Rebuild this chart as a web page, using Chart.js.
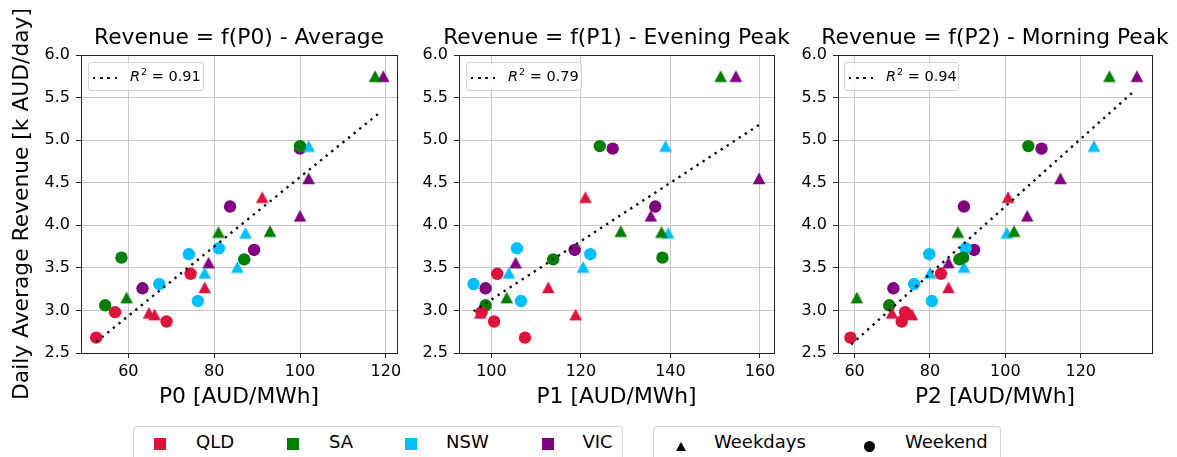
<!DOCTYPE html>
<html><head><meta charset="utf-8">
<script src="https://cdn.jsdelivr.net/npm/chart.js@4.4.1/dist/chart.umd.min.js"></script>
<style>
body{margin:0;background:#fff;}
#wrap{position:relative;width:1177px;height:457px;overflow:hidden;background:#fff;font-family:"DejaVu Sans",sans-serif;color:#000;}
#wrap canvas{position:absolute;top:0;}
.r2{position:absolute;top:62px;height:29px;background:rgba(255,255,255,0.8);border:1px solid #d4d4d4;border-radius:3px;box-sizing:border-box;}
.r2 .dots{position:absolute;left:4px;top:14px;width:25px;height:2.4px;background:repeating-linear-gradient(90deg,#1a1a1a 0,#1a1a1a 2.4px,transparent 2.4px,transparent 7.2px);}
.r2 .txt{position:absolute;left:41px;top:5px;font-size:14.5px;line-height:16px;white-space:nowrap;}
.r2 sup{font-size:9.5px;vertical-align:0;position:relative;top:-6px;margin-left:1px;}
.lg{position:absolute;top:426px;height:45px;border:1px solid #d4d4d4;border-radius:4px;box-sizing:border-box;background:#fff;}
.sq{position:absolute;width:12px;height:12px;top:437.5px;}
.lt{position:absolute;top:433px;font-size:18px;line-height:18px;white-space:nowrap;}
.mk{position:absolute;}
</style>
</head><body>
<div id="wrap">
  <div class="r2" style="left:88px;width:116px"><div class="dots"></div><div class="txt"><i>R</i><sup>2</sup> = 0.91</div></div>
  <div class="r2" style="left:466px;width:116px"><div class="dots"></div><div class="txt"><i>R</i><sup>2</sup> = 0.79</div></div>
  <div class="r2" style="left:844px;width:115px"><div class="dots"></div><div class="txt"><i>R</i><sup>2</sup> = 0.94</div></div>
  <div class="lg" style="left:133px;width:490px"></div>
  <div class="lg" style="left:653px;width:348px"></div>
  <div id="legendItems"></div>
</div>
<script>
// ---- categories & styling keys ----
const regions = ['QLD', 'SA', 'NSW', 'VIC'];
const regionColors = ['#DC143C', '#008000', '#00BFFF', '#800080'];
const dayTypes = ['Weekdays', 'Weekend'];

// ---- axis tick labels ----
const yTicks = [2.5, 3.0, 3.5, 4.0, 4.5, 5.0, 5.5, 6.0];
const p0Ticks = [60, 80, 100, 120];
const p1Ticks = [100, 120, 140, 160];
const p2Ticks = [60, 80, 100, 120];

// ---- daily average revenue [k AUD/day] ----
const revQLDwd = [2.97, 2.95, 3.27, 4.33];
const revQLDwe = [2.68, 2.98, 2.87, 3.43];
const revSAwd  = [3.15, 3.92, 3.93, 5.75];
const revSAwe  = [3.06, 3.62, 3.60, 4.93];
const revNSWwd = [3.44, 3.51, 3.91, 4.93];
const revNSWwe = [3.31, 3.66, 3.11, 3.73];
const revVICwd = [3.56, 4.11, 4.55, 5.75];
const revVICwe = [3.26, 4.22, 3.71, 4.90];

// ---- P0 average price [AUD/MWh] ----
const p0QLDwd = [64.8, 66.1, 77.8, 91.2];
const p0QLDwe = [52.5, 56.9, 68.9, 74.5];
const p0SAwd  = [59.6, 81.0, 93.0, 117.5];
const p0SAwe  = [54.6, 58.4, 87.0, 100.0];
const p0NSWwd = [77.8, 85.4, 87.3, 102.0];
const p0NSWwe = [67.2, 74.1, 76.2, 81.1];
const p0VICwd = [78.7, 100.0, 102.0, 119.4];
const p0VICwe = [63.3, 83.7, 89.3, 100.0];

// ---- P1 evening peak price [AUD/MWh] ----
const p1QLDwd = [97.5, 118.8, 112.7, 121.0];
const p1QLDwe = [107.5, 97.8, 100.6, 101.3];
const p1SAwd  = [103.4, 138.0, 128.9, 151.2];
const p1SAwe  = [98.7, 138.2, 113.8, 124.2];
const p1NSWwd = [103.9, 120.5, 139.5, 138.9];
const p1NSWwe = [96.0, 122.1, 106.6, 105.7];
const p1VICwd = [105.4, 135.6, 159.8, 154.6];
const p1VICwe = [98.7, 136.6, 118.6, 127.1];

// ---- P2 morning peak price [AUD/MWh] ----
const p2QLDwd = [69.9, 75.2, 84.9, 100.7];
const p2QLDwe = [58.9, 73.4, 72.5, 82.9];
const p2SAwd  = [60.6, 87.4, 102.3, 127.6];
const p2SAwe  = [69.2, 88.8, 87.8, 106.1];
const p2NSWwd = [80.0, 89.0, 100.4, 123.5];
const p2NSWwe = [75.8, 79.8, 80.5, 89.5];
const p2VICwd = [84.9, 105.8, 114.6, 134.9];
const p2VICwe = [70.3, 89.0, 91.7, 109.6];

// ---- fitted trend line end points ----
const fit0X = [52.5, 119.0], fit0Y = [2.63, 5.34];
const fit1X = [96.0, 159.8], fit1Y = [2.99, 5.18];
const fit2X = [59.1, 134.0], fit2Y = [2.60, 5.57];

const revWd = [revQLDwd, revSAwd, revNSWwd, revVICwd];
const revWe = [revQLDwe, revSAwe, revNSWwe, revVICwe];

const FONT = 'DejaVu Sans';
const TSIZE = 21.8;

function triImg(color) {
  const c = document.createElement('canvas');
  c.width = 14; c.height = 13;
  const g = c.getContext('2d');
  g.fillStyle = color;
  g.beginPath(); g.moveTo(7, 0.5); g.lineTo(13.3, 12.3); g.lineTo(0.7, 12.3); g.closePath(); g.fill();
  return c;
}

const frame = {
  id: 'frame',
  afterDraw(ch) {
    const a = ch.chartArea, ctx = ch.ctx;
    ctx.save();
    ctx.strokeStyle = '#222'; ctx.lineWidth = 1;
    ctx.strokeRect(Math.round(a.left) + 0.5, Math.round(a.top) + 0.5, Math.round(a.right - a.left), Math.round(a.bottom - a.top));
    ctx.restore();
  }
};

function zip(xs, ys) { return xs.map((x, i) => ({x: x, y: ys[i]})); }

function panel(o) {
  const cv = document.createElement('canvas');
  const plotW = o.R - o.L;
  const w = plotW + 2 * o.yw;
  cv.width = w; cv.height = 420;
  cv.style.left = (o.L - o.yw) + 'px';
  cv.style.width = w + 'px'; cv.style.height = '420px';
  document.getElementById('wrap').insertBefore(cv, document.querySelector('.r2'));

  const ds = [];
  ds.push({label: 'fit', data: zip(o.fitX, o.fitY), showLine: true, borderColor: '#111', borderWidth: 2.4,
           borderDash: [2.4, 4.8], pointRadius: 0, fill: false, order: 0});
  regions.forEach((r, i) => {
    ds.push({label: r + ' ' + dayTypes[0], data: zip(o.pwd[i], revWd[i]), pointStyle: triImg(regionColors[i]),
             backgroundColor: regionColors[i], borderWidth: 0, order: 1});
    ds.push({label: r + ' ' + dayTypes[1], data: zip(o.pwe[i], revWe[i]), pointStyle: 'circle', pointRadius: 6.2,
             backgroundColor: regionColors[i], borderColor: regionColors[i], borderWidth: 0, order: 1});
  });

  new Chart(cv, {
    type: 'scatter',
    data: {datasets: ds},
    options: {
      responsive: false, animation: false, devicePixelRatio: 1,
      layout: {padding: {left: 0, right: 0, top: 0, bottom: 7}},
      plugins: {
        legend: {display: false}, tooltip: {enabled: false},
        title: {display: true, text: o.title, color: '#000', font: {family: FONT, size: TSIZE, weight: 'normal'},
                padding: {top: 25.1, bottom: 3.74}}
      },
      scales: {
        x: {
          type: 'linear', min: o.xmin, max: o.xmax,
          afterBuildTicks: a => { a.ticks = o.xTicks.map(v => ({value: v})); },
          ticks: {color: '#000', font: {family: FONT, size: 16}, padding: 4, maxRotation: 0, callback: v => String(v)},
          grid: {color: '#c8c8c8', lineWidth: 1, tickColor: '#222', tickLength: 5, tickWidth: 1},
          border: {display: false},
          title: {display: true, text: o.xTitle, color: '#000', font: {family: FONT, size: TSIZE}, padding: {top: 0, bottom: 2.9}},
          afterFit: s => { s.height = 60; s.paddingLeft = 0; s.paddingRight = 0; }
        },
        y: {
          type: 'linear', min: 2.5, max: 6.0,
          afterBuildTicks: a => { a.ticks = yTicks.map(v => ({value: v})); },
          ticks: {color: '#000', font: {family: FONT, size: 16}, padding: 6, callback: v => Number(v).toFixed(1)},
          grid: {color: '#c8c8c8', lineWidth: 1, tickColor: '#222', tickLength: 5, tickWidth: 1},
          border: {display: false},
          title: {display: !!o.yTitle, text: o.yTitle || '', color: '#000', font: {family: FONT, size: TSIZE}, padding: {top: 9.5, bottom: 0}},
          afterFit: s => { s.width = o.yw; s.paddingTop = 0; s.paddingBottom = 0; }
        },
        yPad: {
          type: 'linear', position: 'right', display: true, min: 2.5, max: 6.0,
          grid: {display: false, drawOnChartArea: false}, ticks: {display: false}, border: {display: false},
          afterFit: s => { s.width = o.yw; s.paddingTop = 0; s.paddingBottom = 0; }
        }
      }
    },
    plugins: [frame]
  });
}

panel({L: 81, R: 397, yw: 81, xmin: 48.97, xmax: 122.6, xTicks: p0Ticks,
       title: 'Revenue = f(P0) - Average', xTitle: 'P0 [AUD/MWh]', yTitle: 'Daily Average Revenue [k AUD/day]',
       pwd: [p0QLDwd, p0SAwd, p0NSWwd, p0VICwd], pwe: [p0QLDwe, p0SAwe, p0NSWwe, p0VICwe], fitX: fit0X, fitY: fit0Y});
panel({L: 459, R: 774, yw: 45, xmin: 92.76, xmax: 163.13, xTicks: p1Ticks,
       title: 'Revenue = f(P1) - Evening Peak', xTitle: 'P1 [AUD/MWh]',
       pwd: [p1QLDwd, p1SAwd, p1NSWwd, p1VICwd], pwe: [p1QLDwe, p1SAwe, p1NSWwe, p1VICwe], fitX: fit1X, fitY: fit1Y});
panel({L: 838, R: 1152, yw: 45, xmin: 55.6, xmax: 138.9, xTicks: p2Ticks,
       title: 'Revenue = f(P2) - Morning Peak', xTitle: 'P2 [AUD/MWh]',
       pwd: [p2QLDwd, p2SAwd, p2NSWwd, p2VICwd], pwe: [p2QLDwe, p2SAwe, p2NSWwe, p2VICwe], fitX: fit2X, fitY: fit2Y});

// ---- bottom legends (HTML text) ----
const li = document.getElementById('legendItems');
const sqX = [154.3, 287.3, 405, 542.3];
const txX = [196, 329, 446, 582.5];
regions.forEach((r, i) => {
  li.insertAdjacentHTML('beforeend',
    `<div class="sq" style="left:${sqX[i]}px;background:${regionColors[i]}"></div>` +
    `<div class="lt" style="left:${txX[i]}px">${r}</div>`);
});
li.insertAdjacentHTML('beforeend',
  `<svg class="mk" style="left:676px;top:442px" width="10" height="9"><polygon points="5,0 10,9 0,9" fill="#000"/></svg>` +
  `<div class="lt" style="left:714px">${dayTypes[0]}</div>` +
  `<svg class="mk" style="left:864px;top:441px" width="11" height="11"><circle cx="5.5" cy="5.5" r="5.5" fill="#000"/></svg>` +
  `<div class="lt" style="left:905px">${dayTypes[1]}</div>`);
</script>
</body></html>
